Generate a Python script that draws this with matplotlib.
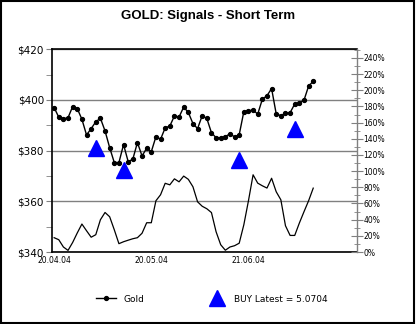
import numpy as np
import matplotlib
matplotlib.use('Agg')
import matplotlib.pyplot as plt
from matplotlib.ticker import MultipleLocator, FuncFormatter
from matplotlib.patches import Rectangle

# gold closing price, one value per trading day
gold = [397.0, 393.2, 392.6, 393.0, 397.4, 396.6, 392.4, 386.2, 388.7, 391.4,
        392.8, 387.8, 381.2, 375.3, 375.3, 382.4, 375.7, 376.6, 383.2, 377.9,
        381.0, 379.6, 385.5, 384.5, 389.0, 389.7, 393.7, 393.3, 397.2, 395.1,
        390.7, 388.7, 393.8, 392.7, 387.1, 385.1, 385.1, 385.5, 386.7, 385.4,
        386.3, 395.4, 395.7, 396.1, 394.4, 400.3, 401.7, 404.5, 394.5, 393.8,
        394.8, 395.0, 398.4, 398.8, 399.9, 405.5, 407.4]

# short term indicator, right axis (%)
signal_pct = [17.7, 15.2, 6.2, 2.0, 11.8, 23.6, 34.6, 26.3, 18.3, 21.4,
              39.9, 48.9, 43.6, 27.5, 10.3, 12.7, 14.6, 16.4, 17.7, 23.2,
              36.2, 36.2, 63.4, 70.8, 85.0, 83.1, 90.5, 86.8, 93.9, 89.9,
              80.7, 62.1, 56.6, 53.5, 48.8, 25.1, 9.0, 2.2, 6.2, 7.8,
              10.9, 33.7, 63.4, 95.5, 85.2, 81.9, 79.1, 91.2, 74.5, 64.6,
              32.5, 20.5, 20.5, 35.8, 49.8, 63.4, 79.0]

# buy signals
buy_idx = [9, 15, 40, 52]
buy_val = [381.2, 372.2, 376.3, 388.4]

date_pos = [0, 21, 42]
date_labels = ['20.04.04', '20.05.04', '21.06.04']

x = np.arange(len(gold))

fig = plt.figure(figsize=(4.16, 3.24), dpi=100)
ax = fig.add_axes([0.1257, 0.2222, 0.7318, 0.6256])
ax2 = ax.twinx()

ax.plot(x, gold, 'k-', lw=1, marker='o', ms=2.8, label='Gold', zorder=3)
ax.plot(buy_idx, buy_val, ls='none', marker='^', ms=11.5, color='#0000ff',
        label='BUY Latest = 5.0704', zorder=4)
ax2.plot(x, signal_pct, 'k-', lw=0.9)

ax.set_xlim(-0.4, 65.4)
ax.set_ylim(340, 420)
ax2.set_ylim(0, 250.7)

ax.yaxis.set_major_locator(MultipleLocator(20))
ax.yaxis.set_minor_locator(MultipleLocator(10))
ax.yaxis.set_major_formatter(FuncFormatter(lambda v, p: '$%d' % v))
ax.set_xticks(date_pos)
ax.set_xticklabels(date_labels, fontsize=5.5, family='Liberation Sans Narrow')
ax.tick_params(axis='x', length=0, pad=3)
ax.tick_params(axis='y', which='major', length=4, color='gray', labelsize=7.5, pad=2)
ax.tick_params(axis='y', which='minor', length=4, color='gray')

ax2.yaxis.set_major_locator(MultipleLocator(20))
ax2.yaxis.set_minor_locator(MultipleLocator(10))
ax2.set_yticks(np.arange(0, 241, 20))
ax2.yaxis.set_major_formatter(FuncFormatter(lambda v, p: '%d%%' % v))
ax2.tick_params(axis='y', which='major', direction='inout', length=8, color='gray',
                labelsize=5.5, pad=1)
ax2.tick_params(axis='y', which='minor', direction='inout', length=5, color='gray')
for lab in ax2.get_yticklabels():
    lab.set_family('Liberation Sans Narrow')

ax.grid(axis='y', which='major', color='gray', lw=1)
for s in ['left', 'bottom', 'top']:
    ax.spines[s].set_color('black')
    ax.spines[s].set_linewidth(1.2)
ax2.spines['right'].set_color('gray')
ax2.spines['right'].set_linewidth(1)
for s in ['left', 'bottom', 'top']:
    ax2.spines[s].set_visible(False)
ax.spines['right'].set_visible(False)

fig.suptitle('GOLD: Signals - Short Term', x=0.5, y=0.97, fontsize=9.5,
             fontweight='bold', family='Liberation Sans')

ax.legend(loc='center', bbox_to_anchor=(0.51, 0.077), bbox_transform=fig.transFigure,
          ncol=2, frameon=False, fontsize=6.5, handlelength=2.2, columnspacing=7,
          handletextpad=0.8)

fig.add_artist(Rectangle((0.002, 0.003), 0.994, 0.994, transform=fig.transFigure,
                         fill=False, ec='black', lw=1.5))

fig.savefig('out.png', dpi=100)
